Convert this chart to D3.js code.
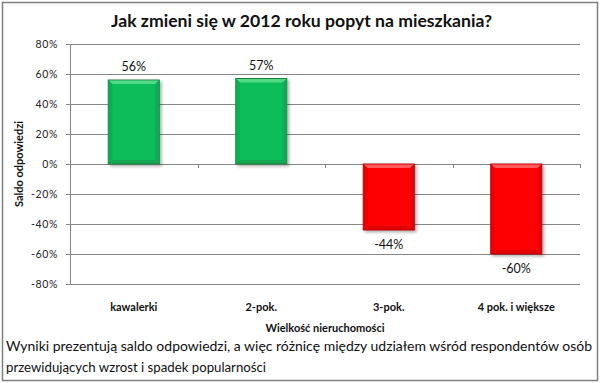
<!DOCTYPE html>
<html><head><meta charset="utf-8">
<script src="https://cdn.jsdelivr.net/npm/d3@7"></script>
<style>body{margin:0;background:#fff}svg{display:block}</style>
</head><body><div id="c"></div>
<script>
const categories = ["kawalerki", "2-pok.", "3-pok.", "4 pok. i większe"];
const values = [56, 57, -44, -60];
const yTicks = [80, 60, 40, 20, 0, -20, -40, -60, -80];
const title = "Jak zmieni się w 2012 roku popyt na mieszkania?";
const yTitle = "Saldo odpowiedzi";
const xTitle = "Wielkość nieruchomości";
const note = ["Wyniki prezentują saldo odpowiedzi, a więc różnicę między udziałem wśród respondentów osób",
              "przewidujących wzrost i spadek popularności"];

const W = 600, H = 383;
const F = "Lato, 'Open Sans', sans-serif";
const svg = d3.select("#c").append("svg").attr("width", W).attr("height", H);

const defs = svg.append("defs");
const sh = defs.append("filter").attr("id","sh").attr("x","-20%").attr("y","-20%").attr("width","150%").attr("height","150%");
sh.append("feGaussianBlur").attr("in","SourceAlpha").attr("stdDeviation",1.6);
sh.append("feOffset").attr("dx",1.5).attr("dy",2).attr("result","b");
sh.append("feComponentTransfer").append("feFuncA").attr("type","linear").attr("slope",0.3);
const m = sh.append("feMerge"); m.append("feMergeNode"); m.append("feMergeNode").attr("in","SourceGraphic");

svg.append("rect").attr("x",2.5).attr("y",2.5).attr("width",595).attr("height",378)
  .attr("fill","#fff").attr("stroke","#808080").attr("stroke-width",1.5);

const x = d3.scaleBand().domain(categories).range([70, 580]).paddingInner(0.6).paddingOuter(0.3);
const y = d3.scaleLinear().domain([-80, 80]).range([284, 44]);

svg.append("g").selectAll("line").data(yTicks).join("line")
  .attr("x1",66).attr("x2",580).attr("y1",d=>Math.round(y(d))+0.5).attr("y2",d=>Math.round(y(d))+0.5)
  .attr("stroke","#868686").attr("stroke-width",1);
svg.append("line").attr("x1",70.5).attr("x2",70.5).attr("y1",y(80)).attr("y2",y(-80)+0.5)
  .attr("stroke","#868686");
svg.append("g").selectAll("text").data(yTicks).join("text")
  .attr("x",58).attr("y",d=>y(d)+3.8).attr("text-anchor","end")
  .attr("font-family",F).attr("font-size",10.5).attr("fill","#222").attr("letter-spacing",0.6)
  .text(d=>d+"%");
const catEdges = [70, 580].concat(categories.slice(1).map(c=>x(c)-x.step()*x.paddingInner()/2));
svg.append("g").selectAll("line").data(catEdges).join("line")
  .attr("x1",d=>Math.round(d)+0.5).attr("x2",d=>Math.round(d)+0.5)
  .attr("y1",Math.round(y(0))).attr("y2",Math.round(y(0))+4).attr("stroke","#868686");

const bars = svg.append("g").selectAll("g").data(categories).join("g");
bars.each(function(c,i){
  const v = values[i];
  const g = d3.select(this);
  const bx = x(c), bw = x.bandwidth();
  const y0 = y(Math.max(0,v)), y1 = y(Math.min(0,v));
  const pos = v >= 0;
  const base = pos ? "#0bbd5a" : "#fe0000";
  const dark = pos ? "#1f7f40" : "#b00000";
  const light = pos ? "#5fe08f" : "#ff6b6b";
  const side = pos ? "#0aaf53" : "#ea0000";
  g.append("rect").attr("x",bx).attr("y",y0).attr("width",bw).attr("height",y1-y0)
    .attr("fill",base).attr("stroke",dark).attr("stroke-width",1).attr("filter","url(#sh)");
  const b = 4;
  g.append("path").attr("d",`M${bx+0.5},${y0+0.5}L${bx+bw-0.5},${y0+0.5}L${bx+bw-b},${y0+b}L${bx+b},${y0+b}Z`).attr("fill",light).attr("opacity",0.85);
  g.append("path").attr("d",`M${bx+0.5},${y0+0.5}L${bx+b},${y0+b}L${bx+b},${y1-b}L${bx+0.5},${y1-0.5}Z`).attr("fill",side);
  g.append("path").attr("d",`M${bx+bw-0.5},${y0+0.5}L${bx+bw-b},${y0+b}L${bx+bw-b},${y1-b}L${bx+bw-0.5},${y1-0.5}Z`).attr("fill",side);
  g.append("path").attr("d",`M${bx+0.5},${y1-0.5}L${bx+b},${y1-b}L${bx+bw-b},${y1-b}L${bx+bw-0.5},${y1-0.5}Z`).attr("fill",dark).attr("opacity",0.35);
  g.append("text").attr("x",bx+bw/2).attr("y", pos ? y0-9 : y1+19).attr("text-anchor","middle")
    .attr("font-family",F).attr("font-size",12.5).attr("fill","#111").text(v+"%");
});

svg.append("g").selectAll("text").data(categories).join("text")
  .attr("x",d=>x(d)+x.bandwidth()/2).attr("y",311).attr("text-anchor","middle")
  .attr("font-family",F).attr("font-size",11).attr("font-weight","bold").attr("fill","#111").text(d=>d);

svg.append("text").attr("x",325).attr("y",332).attr("text-anchor","middle")
  .attr("font-family",F).attr("font-size",11).attr("font-weight","bold").attr("fill","#111").text(xTitle);

svg.append("text").attr("transform","translate(23,164) rotate(-90)").attr("text-anchor","middle")
  .attr("font-family",F).attr("font-size",11).attr("font-weight","bold").attr("fill","#111").text(yTitle);

svg.append("text").attr("x",111).attr("y",27).attr("textLength",381).attr("lengthAdjust","spacingAndGlyphs")
  .attr("font-family",F).attr("font-size",17).attr("font-weight","bold").attr("fill","#111").text(title);

svg.append("text").attr("x",6).attr("y",351).attr("textLength",586).attr("lengthAdjust","spacingAndGlyphs")
  .attr("font-family",F).attr("font-size",12.5).attr("fill","#111").text(note[0]);
svg.append("text").attr("x",6).attr("y",372).attr("textLength",260).attr("lengthAdjust","spacingAndGlyphs")
  .attr("font-family",F).attr("font-size",12.5).attr("fill","#111").text(note[1]);
</script></body></html>
